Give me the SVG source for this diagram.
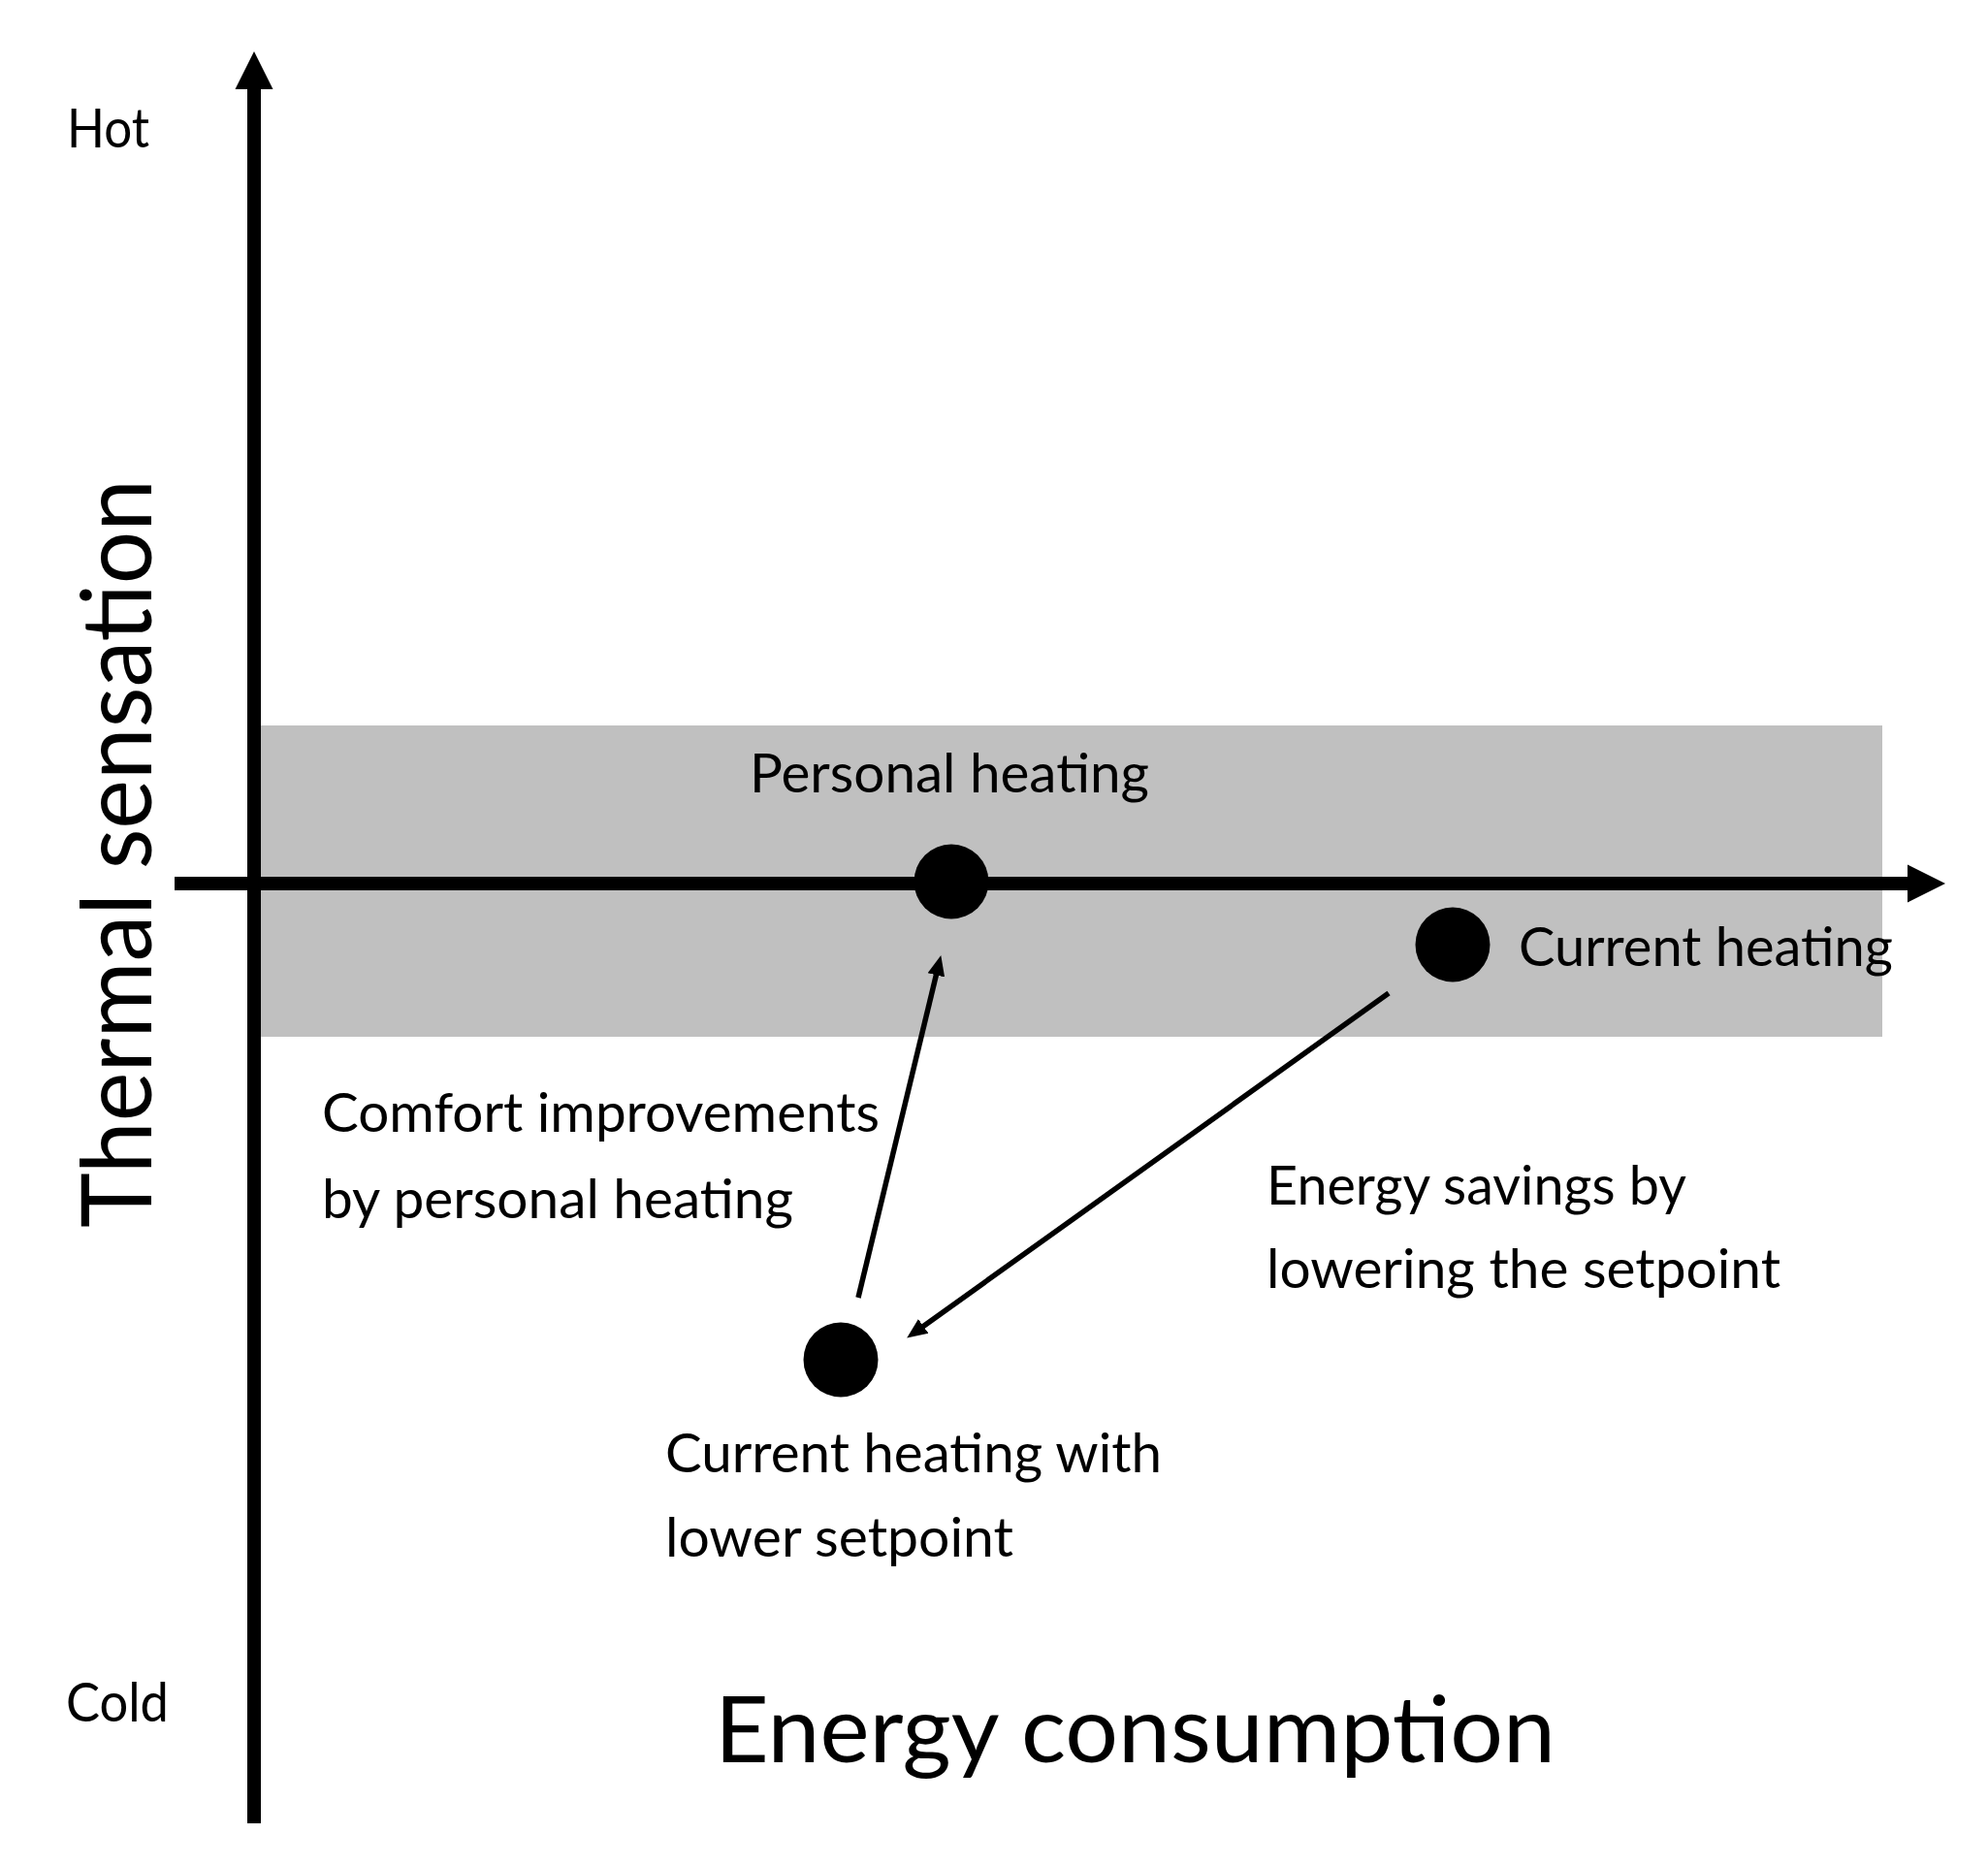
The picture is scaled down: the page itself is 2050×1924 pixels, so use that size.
<svg xmlns="http://www.w3.org/2000/svg" width="2050" height="1924" viewBox="0 0 2050 1924">
  <style>
    .t { font-family: Lato, "Open Sans", "Liberation Sans", sans-serif; fill: #000; }
    .lbl { font-size: 56px; }
    .axis { stroke: #000; stroke-width: 14; fill: none; }
    .conn { stroke: #000; stroke-width: 5.5; fill: none; marker-end: url(#ah); }
    .dot { fill: #000; }
  </style>
  <defs>
    <marker id="ah" markerUnits="userSpaceOnUse" markerWidth="22" markerHeight="20" viewBox="0 0 22 20" refX="10" refY="10" orient="auto">
      <path d="M0,1 L21,10 L0,19 z" fill="#000"/>
    </marker>
  </defs>
  <rect width="2050" height="1924" fill="#fff"/>

  <g id="comfort-band">
    <rect x="268" y="748" width="1673" height="321" fill="#C0C0C0"/>
  </g>

  <g id="axes">
    <line class="axis" x1="262" y1="90" x2="262" y2="1880" stroke-width="13"/>
    <polygon points="262,53 242.5,92 281.5,92" fill="#000"/>
    <line class="axis" x1="180" y1="911" x2="1970" y2="911"/>
    <polygon points="2006,911 1967,891.5 1967,930.5" fill="#000"/>
  </g>

  <g id="axis-labels">
    <text class="t lbl" x="69" y="152" textLength="85" lengthAdjust="spacingAndGlyphs">Hot</text>
    <text class="t lbl" x="68" y="1775" textLength="106" lengthAdjust="spacingAndGlyphs">Cold</text>
    <text class="t" font-size="100" transform="translate(156,1266) rotate(-90)" x="0" y="0" textLength="772" lengthAdjust="spacingAndGlyphs">Thermal sensation</text>
    <text class="t" font-size="95" x="737" y="1817" textLength="867" lengthAdjust="spacingAndGlyphs">Energy consumption</text>
  </g>

  <g id="connectors">
    <line class="conn" x1="885" y1="1338" x2="967.7" y2="995.7"/>
    <line class="conn" x1="1432" y1="1024" x2="944.1" y2="1373.2"/>
  </g>

  <g id="node-personal-heating">
    <circle class="dot" cx="981" cy="909" r="38.5"/>
    <text class="t lbl" x="773" y="817" textLength="412" lengthAdjust="spacingAndGlyphs">Personal heating</text>
  </g>

  <g id="node-current-heating">
    <circle class="dot" cx="1498" cy="974" r="38.5"/>
    <text class="t lbl" x="1566" y="996" textLength="386" lengthAdjust="spacingAndGlyphs">Current heating</text>
  </g>

  <g id="node-lower-setpoint">
    <circle class="dot" cx="867" cy="1402" r="38.5"/>
    <text class="t lbl" x="686" y="1518" textLength="512" lengthAdjust="spacingAndGlyphs">Current heating with</text>
    <text class="t lbl" x="686" y="1605" textLength="359" lengthAdjust="spacingAndGlyphs">lower setpoint</text>
  </g>

  <g id="label-comfort">
    <text class="t lbl" x="332" y="1167" textLength="575" lengthAdjust="spacingAndGlyphs">Comfort improvements</text>
    <text class="t lbl" x="332" y="1256" textLength="486" lengthAdjust="spacingAndGlyphs">by personal heating</text>
  </g>

  <g id="label-energy">
    <text class="t lbl" x="1306" y="1242" textLength="433" lengthAdjust="spacingAndGlyphs">Energy savings by</text>
    <text class="t lbl" x="1306" y="1328" textLength="530" lengthAdjust="spacingAndGlyphs">lowering the setpoint</text>
  </g>
</svg>
